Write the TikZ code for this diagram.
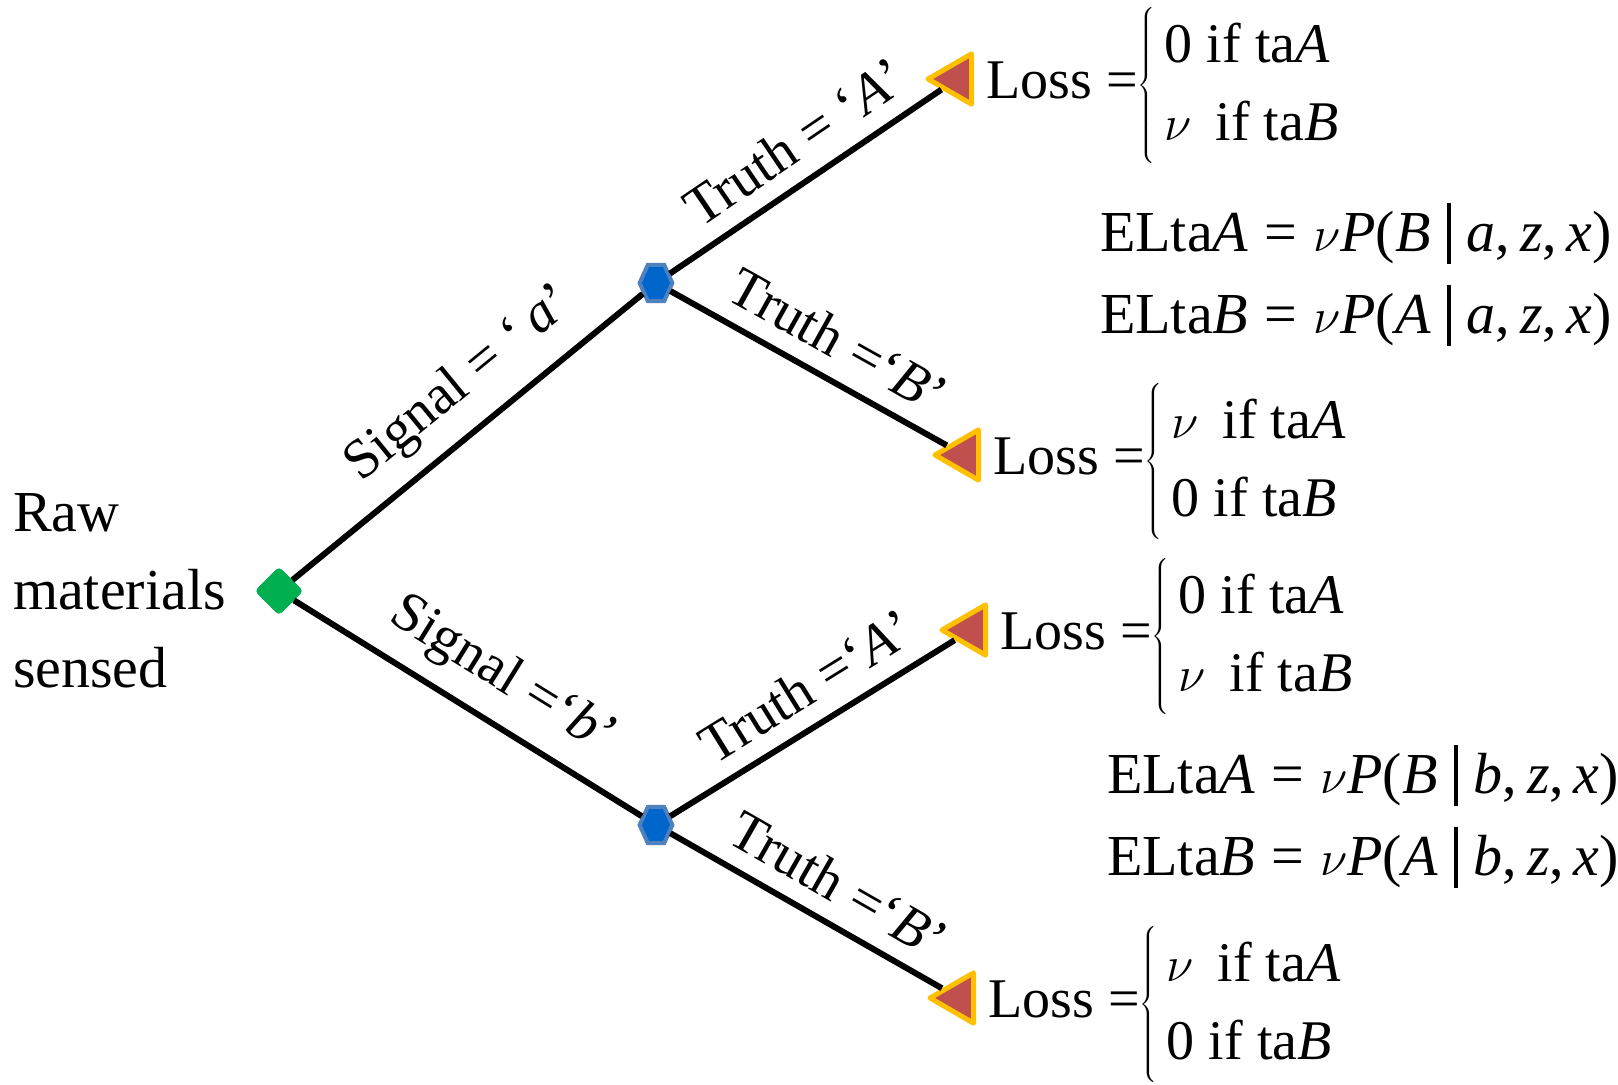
\documentclass[tikz,border=0pt]{standalone}
\usepackage{fontspec}
\setmainfont{Liberation Serif}
\usetikzlibrary{shapes.geometric}
\usetikzlibrary{positioning}
\definecolor{rootgreen}{HTML}{00B050}
\definecolor{sigblue}{HTML}{0066CC}
\definecolor{sigedge}{HTML}{4F81BD}
\definecolor{lossred}{HTML}{C0504D}
\definecolor{lossgold}{HTML}{FFC000}
\newcommand{\condbar}{\;\rule[-0.22em]{0.07em}{1.05em}\;}
\newcommand{\losscases}[2]{Loss =$\left\{\rule[-34pt]{0pt}{68pt}\begin{tabular}{@{\,}l@{}}#1\\#2\end{tabular}\right.$}
\tikzset{
	rootnode/.style={diamond, fill=rootgreen, draw=rootgreen, rounded corners=2pt, minimum size=24pt, inner sep=0pt},
	signode/.style={regular polygon, regular polygon sides=6, fill=sigblue, draw=sigedge, line width=2pt, minimum size=21pt, xscale=0.78, inner sep=0pt},
	lossnode/.style={regular polygon, regular polygon sides=3, shape border rotate=90, fill=lossred, draw=lossgold, line width=2.5pt, line join=round, minimum size=29pt, inner sep=0pt, anchor=corner 1},
	branch/.style={line width=3pt},
	lbl/.style={sloped, above=5pt},
	losstext/.style={inner sep=3pt, yshift=-4pt},
	eltext/.style={align=left, anchor=base west, font=\fontsize{29}{41}\selectfont}
}
\renewcommand{\arraystretch}{1.15}

\begin{document}
\begin{tikzpicture}[x=0.5pt, y=-0.5pt, font=\fontsize{28}{34}\selectfont]
	\useasboundingbox (0,0) rectangle (1618,1084);
	% tree
	\node[rootnode] (root) at (279,591) {};
	\node[signode] (sa) at (656,283) {};
	\node[signode] (sb) at (656,825) {};
	\node[lossnode] (taa) at (923,79) {};
	\node[lossnode] (tab) at (930,455) {};
	\node[lossnode] (tba) at (937,630) {};
	\node[lossnode] (tbb) at (925,998) {};
	\node[align=left, anchor=west, font=\fontsize{29}{39}\selectfont] (raw) at (6,591) {Raw\\materials\\sensed};

	\draw[branch] (root) -- (sa) node[lbl, pos=0.56]{Signal = ‘\,\textit{a}’};
	\draw[branch] (root) -- (sb) node[lbl, pos=0.53]{Signal =‘\textit{b}’};
	\draw[branch] (sa) -- (taa) node[lbl, pos=0.54]{Truth = ‘\textit{A}’};
	\draw[branch] (sa) -- (tab) node[lbl, pos=0.54]{Truth =‘\textit{B}’};
	\draw[branch] (sb) -- (tba) node[lbl, pos=0.55]{Truth =‘\textit{A}’};
	\draw[branch] (sb) -- (tbb) node[lbl, pos=0.55]{Truth =‘\textit{B}’};

	% losses
	\node[losstext, right=3pt of taa] (laa) {\losscases{0 if ta\textit{A}}{$\nu$\, if ta\textit{B}}};
	\node[losstext, right=3pt of tab] (lab) {\losscases{$\nu$\, if ta\textit{A}}{0 if ta\textit{B}}};
	\node[losstext, right=3pt of tba] (lba) {\losscases{0 if ta\textit{A}}{$\nu$\, if ta\textit{B}}};
	\node[losstext, right=3pt of tbb] (lbb) {\losscases{$\nu$\, if ta\textit{A}}{0 if ta\textit{B}}};

	% expected losses
	\node[eltext] (ela) at (1093,333) {ELta\textit{A}\;=\;$\nu$\textit{P}(\textit{B}\condbar\textit{a},\,\textit{z},\,\textit{x})\\ELta\textit{B}\;=\;$\nu$\textit{P}(\textit{A}\condbar\textit{a},\,\textit{z},\,\textit{x})};
	\node[eltext] (elb) at (1100,875) {ELta\textit{A}\;=\;$\nu$\textit{P}(\textit{B}\condbar\textit{b},\,\textit{z},\,\textit{x})\\ELta\textit{B}\;=\;$\nu$\textit{P}(\textit{A}\condbar\textit{b},\,\textit{z},\,\textit{x})};
\end{tikzpicture}
\end{document}
